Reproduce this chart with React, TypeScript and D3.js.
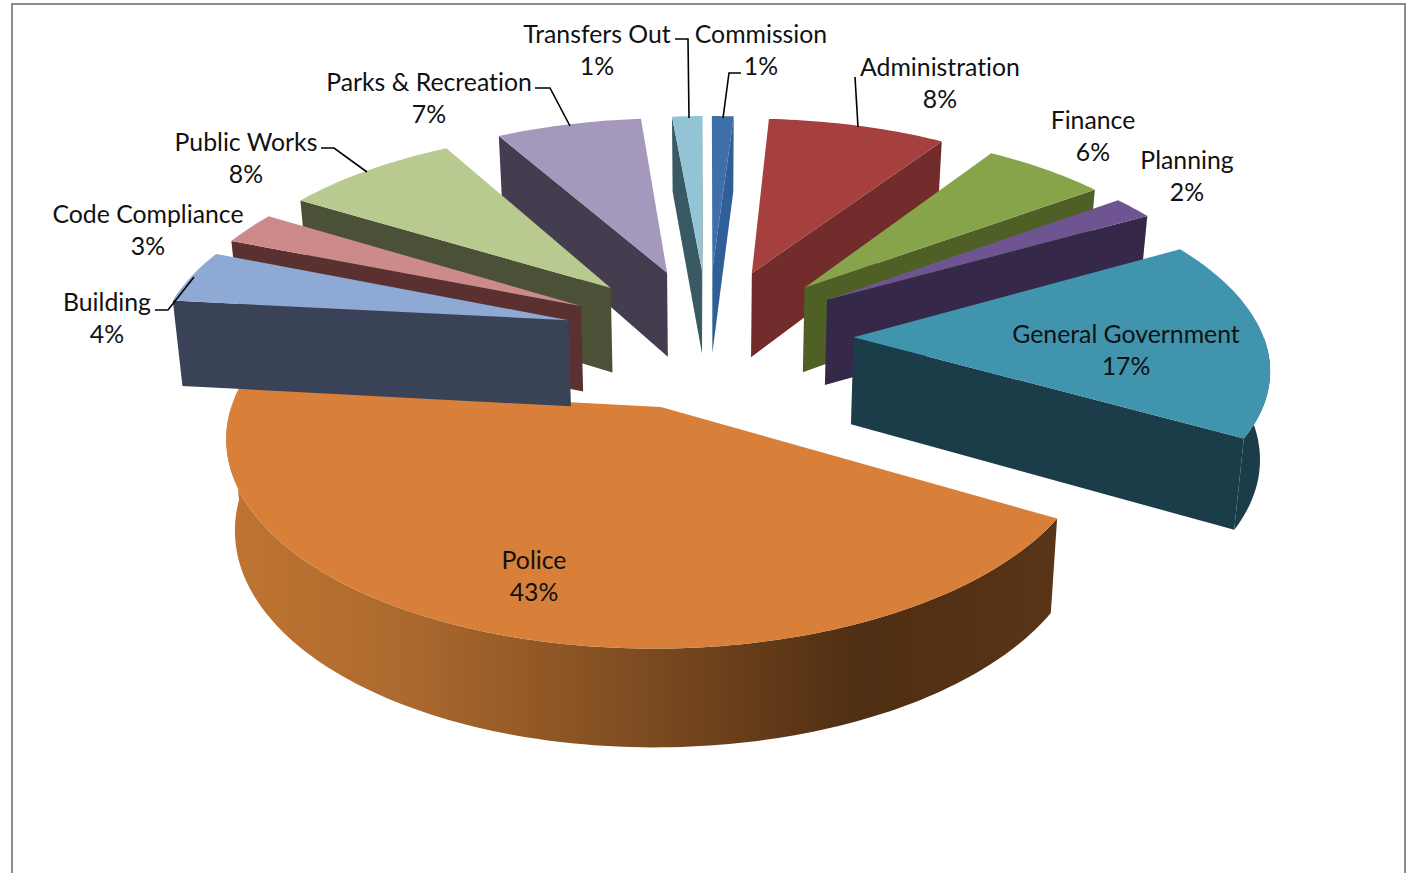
import React from 'react';
import * as d3 from 'd3';

const categories = ['Commission', 'Administration', 'Finance', 'Planning', 'General Government', 'Police', 'Building', 'Code Compliance', 'Public Works', 'Parks & Recreation', 'Transfers Out'];
const shares = [1.0, 8.2, 5.7, 1.9, 16.5, 43.4, 4.4, 2.7, 8.1, 6.7, 1.4];
const percentLabels = ['1%', '8%', '6%', '2%', '17%', '43%', '4%', '3%', '8%', '7%', '1%'];
const topColors = ['#3f6fa8', '#a5403f', '#88a44a', '#6e5490', '#4094ae', '#d88039', '#8ea9d3', '#cc8a8a', '#b8ca90', '#a498bd', '#92c4d6'];
const wallColors = ['#2f5f97', '#722c2b', '#4e6026', '#352848', '#1b3c49', '#5a3416', '#3a4257', '#5b3030', '#4b5136', '#443c4f', '#3a5a63'];

// painter's order, back slices first
const drawOrder = [0, 10, 9, 1, 8, 2, 7, 3, 4, 5, 6];

// label anchors, same order as categories
const labelX = [761, 940, 1093, 1187, 1126, 534, 107, 148, 246, 429, 597];
const labelY = [43, 76, 129, 169, 343, 569, 311, 223, 151, 91, 43];

const leaders: [number, number][][] = [
  [[741, 73], [729, 73], [723, 118]],
  [[855, 77], [858, 127]],
  [[675, 39], [688, 39], [689, 118]],
  [[535, 88], [550, 88], [570, 126]],
  [[321, 148], [334, 148], [367, 172]],
  [[155, 310], [168, 310], [194, 277]],
];

const policeStops = [
  ['0%', '#bf7431'],
  ['20%', '#ad6a2e'],
  ['50%', '#7c4b20'],
  ['76%', '#4f2e13'],
  ['100%', '#5a3416'],
];

const cx = 708;
const cy = 337;
const rx = 410;
const ry = 190;
const explodeX = 0.355;
const explodeY = 0.37;
const persp = 0.13;
const depth = 87;
const bottomShrink = 0.982;

const slices = d3.pie<number>().sort(null).value(d => d)(shares);

const project = (angle: number, r: number, mid: number, bottom: boolean): [number, number] => {
  const X = r * Math.sin(angle) + explodeX * Math.sin(mid);
  const Y = r * Math.cos(angle) + explodeY * Math.cos(mid);
  const w = 1 + persp * Y;
  const sx = (rx * X) / w;
  const sy = (-ry * Y) / w;
  if (!bottom) return [cx + sx, cy + sy];
  return [cx + sx * bottomShrink, cy + sy + depth * (1 - 0.1 * Y)];
};

const line = d3.line();

const arcAngles = (a0: number, a1: number) => {
  const n = Math.max(2, Math.ceil((a1 - a0) / 0.02));
  return d3.range(n + 1).map(i => a0 + ((a1 - a0) * i) / n);
};

const App = () => {
  return (
    <svg width={1414} height={873} style={{ position: 'absolute', left: 0, top: 0 }}>
      <defs>
        <linearGradient id="policeWall" gradientUnits="userSpaceOnUse" x1={235} y1={0} x2={1055} y2={0}>
          {policeStops.map(s => <stop key={s[0]} offset={s[0]} stopColor={s[1]} />)}
        </linearGradient>
      </defs>
      <rect width={1414} height={873} fill="#fff" />
      <path d="M12,900V4H1405V900" fill="none" stroke="#8c8c8c" strokeWidth={2} />
      {drawOrder.map(i => {
        const s = slices[i];
        const mid = (s.startAngle + s.endAngle) / 2;
        const pt = (a: number, r: number, bottom: boolean) => project(a, r, mid, bottom);
        const angles = arcAngles(s.startAngle, s.endAngle);
        const top = angles.map(a => pt(a, 1, false));
        const apex = pt(0, 0, false);
        const apexLow = pt(0, 0, true);
        const wall = categories[i] === 'Police' ? 'url(#policeWall)' : wallColors[i];

        // only the walls that face the viewer get drawn
        const front = angles.filter(a => Math.cos(a) < 0);
        const outer = front.length > 1
          ? [...front.map(a => pt(a, 1, false)), ...front.slice().reverse().map(a => pt(a, 1, true))]
          : null;
        const startWall = Math.sin(s.startAngle) < 0
          ? [apex, pt(s.startAngle, 1, false), pt(s.startAngle, 1, true), apexLow]
          : null;
        const endWall = Math.sin(s.endAngle) > 0
          ? [apex, pt(s.endAngle, 1, false), pt(s.endAngle, 1, true), apexLow]
          : null;

        return (
          <g key={categories[i]}>
            {outer && <path d={line(outer) + 'Z'} fill={wall} />}
            {startWall && <path d={line(startWall) + 'Z'} fill={wallColors[i]} />}
            {endWall && <path d={line(endWall) + 'Z'} fill={wallColors[i]} />}
            <path d={line([apex, ...top]) + 'Z'} fill={topColors[i]} />
          </g>
        );
      })}
      {leaders.map((l, i) => (
        <path key={i} d={line(l) || ''} fill="none" stroke="#000" strokeWidth={1.6} />
      ))}
      <g fontFamily="Lato" fontSize={24.8} textAnchor="middle" fill="#111" style={{ fontVariantLigatures: 'none' }}>
        {categories.map((c, i) => (
          <text key={c} x={labelX[i]} y={labelY[i]}>
            <tspan x={labelX[i]}>{c}</tspan>
            <tspan x={labelX[i]} dy={32}>{percentLabels[i]}</tspan>
          </text>
        ))}
      </g>
    </svg>
  );
};

export default App;
